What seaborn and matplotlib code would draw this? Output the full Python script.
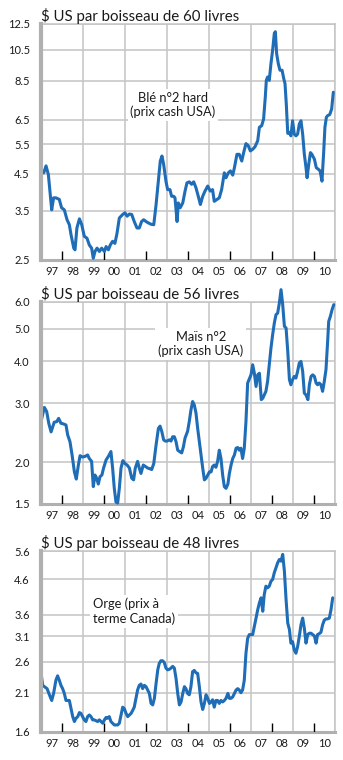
import matplotlib
matplotlib.use("Agg")
import matplotlib.pyplot as plt
import matplotlib.transforms as mtrans
from matplotlib.ticker import NullLocator, FixedLocator, NullFormatter
import seaborn as sns

# ---------------- data ----------------
year_labels = ["97", "98", "99", "00", "01", "02", "03", "04", "05", "06", "07", "08", "09", "10"]
first_year = 1997

ble_years = [1997.00, 1997.13, 1997.24, 1997.35, 1997.44, 1997.51, 1997.60, 1997.71, 1997.87, 1997.98,
             1998.11, 1998.24, 1998.35, 1998.43, 1998.56, 1998.62, 1998.71, 1998.83, 1998.94, 1999.06,
             1999.19, 1999.30, 1999.41, 1999.49, 1999.57, 1999.67, 1999.78, 1999.89, 2000.02, 2000.10,
             2000.21, 2000.30, 2000.41, 2000.52, 2000.62, 2000.73, 2000.89, 2001.00, 2001.10, 2001.21,
             2001.32, 2001.44, 2001.57, 2001.68, 2001.79, 2001.89, 2002.00, 2002.11, 2002.24, 2002.37,
             2002.48, 2002.59, 2002.68, 2002.76, 2002.84, 2002.95, 2003.03, 2003.14, 2003.22, 2003.32,
             2003.38, 2003.48, 2003.54, 2003.63, 2003.75, 2003.86, 2003.95, 2004.06, 2004.17, 2004.27,
             2004.38, 2004.49, 2004.59, 2004.70, 2004.81, 2004.94, 2005.06, 2005.17, 2005.25, 2005.38,
             2005.49, 2005.60, 2005.73, 2005.81, 2005.92, 2006.02, 2006.13, 2006.21, 2006.33, 2006.44,
             2006.56, 2006.65, 2006.76, 2006.87, 2006.97, 2007.08, 2007.19, 2007.32, 2007.40, 2007.51,
             2007.60, 2007.68, 2007.73, 2007.79, 2007.87, 2007.95, 2008.03, 2008.11, 2008.16, 2008.22,
             2008.30, 2008.38, 2008.48, 2008.56, 2008.62, 2008.68, 2008.75, 2008.83, 2008.90, 2008.98,
             2009.06, 2009.14, 2009.22, 2009.30, 2009.38, 2009.46, 2009.54, 2009.62, 2009.67, 2009.75,
             2009.83, 2009.90, 2010.02, 2010.11, 2010.21, 2010.29, 2010.38, 2010.46, 2010.52, 2010.59,
             2010.65, 2010.75, 2010.84, 2010.92]
ble_prices = [4.53, 4.53, 4.75, 4.48, 3.91, 3.52, 3.82, 3.82, 3.78, 3.57,
              3.52, 3.29, 3.18, 2.97, 2.71, 2.68, 3.11, 3.31, 3.18, 2.94,
              2.90, 2.77, 2.71, 2.53, 2.65, 2.71, 2.65, 2.71, 2.65, 2.74,
              2.68, 2.77, 2.84, 2.80, 3.00, 3.33, 3.41, 3.45, 3.37, 3.42,
              3.41, 3.25, 3.11, 3.11, 3.25, 3.29, 3.25, 3.22, 3.19, 3.18,
              3.65, 4.28, 4.91, 5.08, 4.80, 4.28, 4.04, 4.04, 3.86, 3.86,
              3.82, 3.25, 3.69, 3.57, 3.69, 4.00, 4.23, 4.26, 4.19, 4.26,
              4.09, 3.86, 3.65, 3.86, 4.00, 4.14, 4.00, 4.04, 3.73, 3.78,
              3.82, 4.04, 4.53, 4.38, 4.53, 4.59, 4.46, 4.69, 5.14, 5.14,
              4.91, 5.20, 5.53, 5.45, 5.26, 5.32, 5.41, 5.64, 6.18, 6.25,
              6.54, 7.59, 8.51, 8.71, 8.51, 9.54, 10.46, 11.72, 11.86, 10.22,
              9.54, 9.12, 9.12, 8.61, 8.32, 7.25, 5.93, 5.97, 5.83, 6.46,
              5.90, 5.83, 5.90, 6.32, 6.46, 5.90, 5.14, 4.69, 4.38, 4.80,
              5.20, 5.14, 4.97, 4.69, 4.64, 4.59, 4.28, 5.20, 6.18, 6.62,
              6.69, 6.74, 7.00, 7.85]

mais_years = [1997.00, 1997.08, 1997.16, 1997.27, 1997.37, 1997.48, 1997.56, 1997.63, 1997.75, 1997.84,
              1997.95, 1998.06, 1998.19, 1998.27, 1998.38, 1998.48, 1998.59, 1998.68, 1998.78, 1998.86,
              1998.98, 1999.10, 1999.22, 1999.30, 1999.41, 1999.49, 1999.57, 1999.65, 1999.73, 1999.81,
              1999.90, 1999.98, 2000.10, 2000.21, 2000.33, 2000.41, 2000.49, 2000.57, 2000.65, 2000.73,
              2000.81, 2000.90, 2001.00, 2001.10, 2001.21, 2001.32, 2001.41, 2001.49, 2001.60, 2001.68,
              2001.76, 2001.87, 2001.97, 2002.08, 2002.19, 2002.27, 2002.37, 2002.48, 2002.59, 2002.67,
              2002.75, 2002.84, 2002.92, 2003.00, 2003.11, 2003.19, 2003.27, 2003.35, 2003.43, 2003.51,
              2003.60, 2003.70, 2003.78, 2003.86, 2003.98, 2004.06, 2004.14, 2004.22, 2004.30, 2004.38,
              2004.46, 2004.54, 2004.62, 2004.70, 2004.78, 2004.86, 2004.94, 2005.02, 2005.10, 2005.17,
              2005.25, 2005.33, 2005.41, 2005.49, 2005.57, 2005.65, 2005.73, 2005.81, 2005.90, 2005.97,
              2006.05, 2006.13, 2006.21, 2006.29, 2006.37, 2006.44, 2006.52, 2006.60, 2006.68, 2006.76,
              2006.84, 2007.00, 2007.08, 2007.16, 2007.24, 2007.32, 2007.40, 2007.49, 2007.56, 2007.63,
              2007.71, 2007.79, 2007.87, 2007.95, 2008.03, 2008.11, 2008.19, 2008.27, 2008.35, 2008.43,
              2008.51, 2008.59, 2008.67, 2008.75, 2008.83, 2008.90, 2008.98, 2009.06, 2009.14, 2009.22,
              2009.30, 2009.38, 2009.46, 2009.54, 2009.62, 2009.71, 2009.78, 2009.86, 2009.94, 2010.02,
              2010.10, 2010.17, 2010.25, 2010.33, 2010.41, 2010.49, 2010.57, 2010.65, 2010.70, 2010.78,
              2010.86, 2010.94]
mais_prices = [2.64, 2.77, 2.91, 2.83, 2.61, 2.46, 2.55, 2.63, 2.64, 2.70,
               2.61, 2.60, 2.58, 2.41, 2.30, 2.10, 1.87, 1.78, 1.96, 2.09,
               2.07, 2.08, 2.10, 2.05, 2.01, 1.69, 1.83, 1.79, 1.72, 1.81,
               1.83, 1.92, 2.03, 2.08, 2.15, 1.92, 1.67, 1.52, 1.51, 1.67,
               1.92, 2.02, 1.98, 1.96, 1.92, 1.79, 1.77, 1.92, 2.01, 1.92,
               1.85, 1.96, 1.94, 1.92, 1.91, 1.90, 1.98, 2.25, 2.52, 2.56,
               2.47, 2.33, 2.31, 2.31, 2.33, 2.31, 2.38, 2.38, 2.30, 2.17,
               2.15, 2.13, 2.22, 2.36, 2.47, 2.64, 2.86, 3.03, 2.96, 2.80,
               2.52, 2.30, 2.10, 1.92, 1.77, 1.79, 1.83, 1.87, 1.87, 1.94,
               1.96, 1.93, 2.01, 2.17, 2.05, 1.83, 1.69, 1.67, 1.72, 1.85,
               1.96, 2.05, 2.10, 2.20, 2.21, 2.17, 2.20, 2.05, 2.20, 2.64,
               3.44, 3.64, 3.90, 3.68, 3.36, 3.64, 3.68, 3.07, 3.10, 3.17,
               3.25, 3.48, 3.90, 4.37, 4.79, 5.19, 5.50, 5.56, 5.96, 6.53,
               5.89, 5.08, 5.02, 4.28, 3.52, 3.40, 3.52, 3.60, 3.56, 3.73,
               3.95, 3.99, 3.73, 3.21, 3.17, 3.07, 3.40, 3.60, 3.64, 3.60,
               3.44, 3.40, 3.44, 3.40, 3.25, 3.48, 3.77, 4.58, 5.25, 5.44,
               5.69, 5.89]

orge_years = [1997.00, 1997.08, 1997.16, 1997.29, 1997.40, 1997.51, 1997.60, 1997.71, 1997.79, 1997.87,
              1997.95, 1998.03, 1998.11, 1998.19, 1998.27, 1998.35, 1998.43, 1998.51, 1998.59, 1998.67,
              1998.75, 1998.83, 1998.90, 1998.98, 1999.06, 1999.14, 1999.22, 1999.30, 1999.38, 1999.46,
              1999.54, 1999.62, 1999.70, 1999.78, 1999.86, 1999.94, 2000.02, 2000.10, 2000.17, 2000.25,
              2000.33, 2000.41, 2000.49, 2000.57, 2000.65, 2000.73, 2000.81, 2000.89, 2000.97, 2001.05,
              2001.13, 2001.21, 2001.29, 2001.37, 2001.44, 2001.52, 2001.60, 2001.68, 2001.76, 2001.84,
              2001.92, 2002.00, 2002.08, 2002.16, 2002.24, 2002.32, 2002.40, 2002.48, 2002.56, 2002.63,
              2002.71, 2002.79, 2002.87, 2002.95, 2003.03, 2003.11, 2003.19, 2003.27, 2003.35, 2003.43,
              2003.51, 2003.59, 2003.67, 2003.75, 2003.83, 2003.90, 2003.98, 2004.06, 2004.14, 2004.22,
              2004.30, 2004.38, 2004.46, 2004.54, 2004.62, 2004.70, 2004.78, 2004.86, 2004.94, 2005.02,
              2005.10, 2005.17, 2005.25, 2005.33, 2005.41, 2005.49, 2005.57, 2005.65, 2005.73, 2005.81,
              2005.90, 2005.97, 2006.05, 2006.13, 2006.21, 2006.29, 2006.37, 2006.44, 2006.52, 2006.60,
              2006.68, 2006.76, 2006.84, 2006.92, 2007.00, 2007.08, 2007.16, 2007.24, 2007.32, 2007.40,
              2007.48, 2007.56, 2007.63, 2007.71, 2007.79, 2007.87, 2007.95, 2008.03, 2008.11, 2008.19,
              2008.27, 2008.35, 2008.43, 2008.51, 2008.59, 2008.67, 2008.75, 2008.83, 2008.90, 2008.98,
              2009.06, 2009.14, 2009.22, 2009.30, 2009.38, 2009.46, 2009.54, 2009.62, 2009.70, 2009.78,
              2009.86, 2009.94, 2010.02, 2010.10, 2010.17, 2010.25, 2010.33, 2010.41, 2010.49, 2010.57,
              2010.65, 2010.73, 2010.81, 2010.89]
orge_prices = [2.41, 2.21, 2.19, 2.16, 2.07, 1.99, 2.09, 2.29, 2.36, 2.29,
               2.21, 2.16, 2.09, 1.99, 1.99, 1.99, 1.88, 1.78, 1.72, 1.76,
               1.78, 1.83, 1.82, 1.78, 1.74, 1.72, 1.78, 1.80, 1.78, 1.74,
               1.74, 1.73, 1.72, 1.74, 1.72, 1.70, 1.74, 1.77, 1.76, 1.78,
               1.72, 1.70, 1.68, 1.68, 1.68, 1.70, 1.80, 1.90, 1.88, 1.82,
               1.78, 1.80, 1.82, 1.86, 1.90, 2.02, 2.14, 2.21, 2.23, 2.16,
               2.21, 2.19, 2.14, 2.09, 1.95, 1.93, 2.02, 2.24, 2.46, 2.57,
               2.62, 2.62, 2.59, 2.49, 2.46, 2.47, 2.49, 2.52, 2.49, 2.32,
               2.09, 1.93, 1.97, 2.09, 2.19, 2.16, 2.09, 2.07, 2.19, 2.43,
               2.45, 2.41, 2.40, 2.19, 1.97, 1.87, 1.95, 2.07, 2.02, 1.95,
               1.97, 2.00, 1.90, 1.99, 1.99, 1.95, 1.99, 1.97, 1.99, 2.02,
               2.09, 2.02, 2.02, 2.04, 2.09, 2.14, 2.16, 2.14, 2.10, 2.14,
               2.29, 2.76, 3.06, 3.14, 3.14, 3.14, 3.32, 3.52, 3.73, 3.91,
               4.05, 3.69, 4.14, 4.39, 4.34, 4.39, 4.54, 4.60, 4.82, 4.99,
               5.16, 5.28, 5.22, 5.47, 4.87, 4.00, 3.40, 3.25, 2.96, 2.99,
               2.82, 2.76, 2.89, 3.10, 3.36, 3.52, 3.28, 2.96, 3.14, 3.17,
               3.17, 3.14, 3.11, 2.96, 3.14, 3.16, 3.19, 3.36, 3.47, 3.50,
               3.50, 3.52, 3.73, 4.05]

ble_ticks = [2.5, 3.5, 4.5, 5.5, 6.5, 8.5, 10.5, 12.5]
mais_ticks = [1.5, 2.0, 3.0, 4.0, 5.0, 6.0]
orge_ticks = [1.6, 2.1, 2.6, 3.1, 3.6, 4.6, 5.6]

titles = ["$ US par boisseau de 60 livres",
          "$ US par boisseau de 56 livres",
          "$ US par boisseau de 48 livres"]
notes = ["Blé n°2 hard\n(prix cash USA)",
         "Maïs n°2\n(prix cash USA)",
         "Orge (prix à\nterme Canada)"]

# ---------------- style ----------------
sns.set_style("white")
plt.rcParams["font.family"] = ["Lato", "DejaVu Sans"]

BLUE = "#1f6db7"
GRID = "#c4c4c4"
AXIS = "#b0b0b0"
TXT = "#1a1a1a"

W, H = 343, 760
fig = plt.figure(figsize=(W / 100, H / 100), dpi=100)

# panel boxes in pixels: (top, bottom)
boxes = [(24, 260), (302, 504), (551, 732)]
LEFT, RIGHT = 41, 335

panels = [
    (ble_years, ble_prices, ble_ticks, "{:.1f}", 0),
    (mais_years, mais_prices, mais_ticks, "{:.1f}", 1),
    (orge_years, orge_prices, orge_ticks, "{:.1f}", 2),
]
note_pos = [(0.449, 0.657, "center"), (0.544, 0.792, "center"), (0.177, 0.666, "left")]

n_years = len(year_labels)
bounds = [first_year + i for i in range(n_years + 1)]
mids = [first_year + i + 0.5 for i in range(n_years)]

for (xs, ys, ticks, fmt, i) in panels:
    top, bot = boxes[i]
    ax = fig.add_axes([LEFT / W, 1 - bot / H, (RIGHT - LEFT) / W, (bot - top) / H])
    hpx = bot - top

    sns.lineplot(x=xs, y=ys, ax=ax, color=BLUE, linewidth=2.2, estimator=None,
                 sort=False, zorder=4, clip_on=False)

    ax.set_yscale("log")
    ax.set_ylim(ticks[0], ticks[-1])
    ax.set_xlim(bounds[0], bounds[-1])

    # y axis
    ax.yaxis.set_major_locator(FixedLocator(ticks))
    ax.yaxis.set_minor_locator(NullLocator())
    ax.set_yticklabels([fmt.format(t) for t in ticks])
    ax.tick_params(axis="y", direction="out", length=3, width=1, color=AXIS,
                   pad=5, labelsize=8, labelcolor=TXT)
    for t in ticks:
        ax.axhline(t, color=GRID, lw=1.1, zorder=0.5)

    # x axis: separators at every year boundary, labels centred in each year
    ax.xaxis.set_major_locator(FixedLocator(bounds))
    ax.xaxis.set_major_formatter(NullFormatter())
    ax.xaxis.set_minor_locator(FixedLocator(mids))
    ax.set_xticklabels(year_labels, minor=True)
    ax.tick_params(axis="x", which="major", direction="out", length=15, width=1,
                   color=GRID)
    ax.tick_params(axis="x", which="minor", length=0, pad=4.5, labelsize=8,
                   labelcolor=TXT)

    # vertical grid every other year, short black ticks in between
    for b in bounds[2::2]:
        ax.axvline(b, color=GRID, lw=1.1, zorder=0.5)
    trans = mtrans.blended_transform_factory(ax.transData, ax.transAxes)
    ax.vlines(bounds[1:-1:2], 0, 9 / hpx, transform=trans, colors="black",
              lw=1, zorder=3)

    for side in ["top", "right"]:
        ax.spines[side].set_color(GRID)
        ax.spines[side].set_linewidth(1.1)
    ax.spines["left"].set_color(AXIS)
    ax.spines["left"].set_linewidth(3)
    ax.spines["bottom"].set_color(AXIS)
    ax.spines["bottom"].set_linewidth(2.2)
    ax.spines["left"].set_zorder(5)

    ax.set_xlabel("")
    ax.set_ylabel("")
    ax.set_title(titles[i], loc="left", fontsize=10.8, pad=2.5, color=TXT)

    nx, ny, ha = note_pos[i]
    ax.text(nx, ny, notes[i], transform=ax.transAxes, ha=ha, va="center",
            fontsize=9.3, color=TXT, linespacing=1.2, zorder=2,
            bbox=dict(facecolor="white", edgecolor="none", pad=2))

fig.savefig("out.png", dpi=100)
